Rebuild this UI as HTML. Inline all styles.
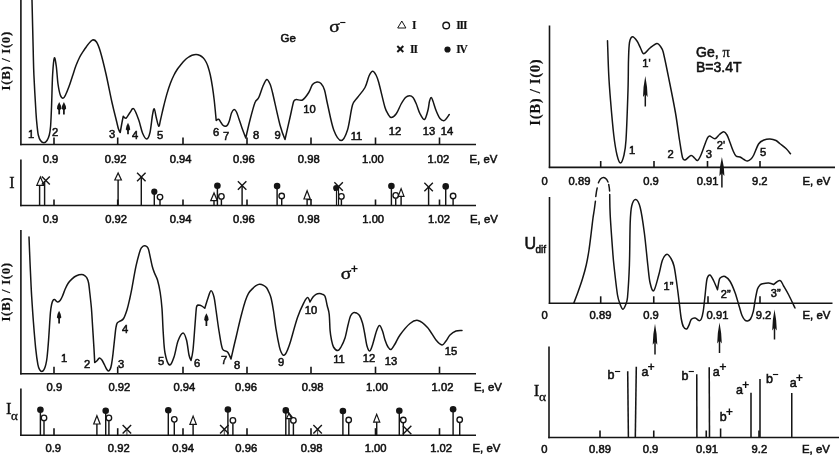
<!DOCTYPE html>
<html><head><meta charset="utf-8"><title>Ge magnetoabsorption spectra</title>
<style>
html,body{margin:0;padding:0;background:#fff;}
svg{display:block;}
.s{font-family:"Liberation Sans",Arial,sans-serif;fill:#111;stroke:#111;stroke-width:0.55px;}
.t{font-family:"Liberation Serif","Times New Roman",serif;fill:#111;stroke:#111;stroke-width:0.35px;}
.tb{font-family:"Liberation Serif","Times New Roman",serif;font-weight:bold;fill:#111;stroke:#111;stroke-width:0.15px;}
.sg{font-family:"Liberation Sans",Arial,sans-serif;font-weight:bold;fill:#111;}
</style></head><body>
<svg width="840" height="455" viewBox="0 0 840 455">
<rect width="840" height="455" fill="#fff"/>
<!-- panel 1 -->
<line x1="20.9" y1="0" x2="20.9" y2="145.2" stroke="#151515" stroke-width="1.6"/>
<line x1="20.2" y1="144.5" x2="476" y2="144.5" stroke="#151515" stroke-width="1.6"/>
<line x1="54" y1="137.5" x2="54" y2="144.5" stroke="#151515" stroke-width="1.6"/>
<line x1="117.7" y1="137.5" x2="117.7" y2="144.5" stroke="#151515" stroke-width="1.6"/>
<line x1="183" y1="137.5" x2="183" y2="144.5" stroke="#151515" stroke-width="1.6"/>
<line x1="247" y1="137.5" x2="247" y2="144.5" stroke="#151515" stroke-width="1.6"/>
<line x1="311" y1="137.5" x2="311" y2="144.5" stroke="#151515" stroke-width="1.6"/>
<line x1="375.5" y1="137.5" x2="375.5" y2="144.5" stroke="#151515" stroke-width="1.6"/>
<line x1="439.5" y1="137.5" x2="439.5" y2="144.5" stroke="#151515" stroke-width="1.6"/>
<text x="50.5" y="163" font-size="11.2" text-anchor="middle" class="s" >0.9</text>
<text x="115.6" y="163" font-size="11.2" text-anchor="middle" class="s" >0.92</text>
<text x="180.6" y="163" font-size="11.2" text-anchor="middle" class="s" >0.94</text>
<text x="243.8" y="163" font-size="11.2" text-anchor="middle" class="s" >0.96</text>
<text x="308.75" y="163" font-size="11.2" text-anchor="middle" class="s" >0.98</text>
<text x="372.8" y="163" font-size="11.2" text-anchor="middle" class="s" >1.00</text>
<text x="438.4" y="163" font-size="11.2" text-anchor="middle" class="s" >1.02</text>
<text x="469.5" y="162.5" font-size="11.4" text-anchor="start" class="s" >E, eV</text>
<text x="0" y="0" font-size="13" text-anchor="middle" class="tb" letter-spacing="0.6" transform="translate(10.2 60.8) rotate(-90)">I(B) / I(0)</text>
<path d="M32.00 0.00C32.20 8.33 32.88 37.50 33.20 50.00C33.52 62.50 33.43 64.50 33.90 75.00C34.37 85.50 35.48 104.67 36.00 113.00C36.37 119.01 36.62 121.33 37.00 125.00C37.38 128.67 37.72 132.42 38.30 135.00C38.88 137.58 39.57 139.22 40.50 140.50C41.43 141.78 42.82 142.70 43.90 142.70C44.98 142.70 46.10 141.78 47.00 140.50C47.90 139.22 48.70 137.42 49.30 135.00C49.90 132.58 50.25 130.53 50.60 126.00C50.98 121.00 51.27 113.50 51.60 105.00C51.93 96.50 52.15 82.83 52.60 75.00C53.05 67.17 53.69 59.50 54.30 58.00C54.91 56.50 55.67 61.92 56.25 66.00C56.87 70.33 57.33 79.17 58.00 84.00C58.67 88.83 59.47 92.62 60.30 95.00C61.00 97.01 62.13 98.30 63.00 98.30C63.87 98.30 64.56 96.84 65.50 95.00C66.50 93.05 67.83 89.77 69.00 86.60C70.17 83.43 71.33 79.50 72.50 76.00C73.67 72.50 74.83 68.68 76.00 65.60C77.17 62.52 78.33 59.82 79.50 57.50C80.67 55.18 81.58 53.87 83.00 51.70C84.42 49.53 86.42 46.45 88.00 44.50C89.58 42.55 91.08 40.42 92.50 40.00C93.92 39.58 95.25 40.15 96.50 42.00C97.82 43.95 98.91 46.69 100.40 51.70C101.98 57.03 104.07 65.53 106.00 74.00C107.93 82.47 110.25 94.67 112.00 102.50C113.75 110.33 115.42 116.58 116.50 121.00C117.48 125.00 117.88 127.08 118.50 129.00C119.10 130.85 120.20 132.50 120.20 132.50C120.20 132.50 121.49 125.21 122.00 122.50C122.51 119.79 123.25 116.25 123.25 116.25C123.25 116.25 125.12 118.62 126.25 118.00C127.38 117.38 128.75 114.04 130.00 112.50C131.25 110.96 132.29 107.50 133.75 108.75C135.21 110.00 137.29 115.96 138.75 120.00C140.21 124.04 141.17 129.83 142.50 133.00C143.83 136.17 145.50 139.08 146.75 139.00C148.00 138.92 149.15 136.03 150.00 132.50C150.96 128.50 151.79 118.96 152.50 115.00C153.07 111.81 153.62 108.33 154.25 108.75C154.88 109.17 155.50 114.58 156.25 117.50C157.00 120.42 158.04 125.83 158.75 126.25C159.46 126.67 159.72 123.15 160.50 120.00C161.29 116.79 162.42 111.40 163.50 107.00C164.58 102.60 165.83 97.60 167.00 93.60C168.17 89.60 169.33 86.10 170.50 83.00C171.67 79.90 172.83 77.33 174.00 75.00C175.17 72.67 176.33 70.75 177.50 69.00C178.67 67.25 179.83 65.92 181.00 64.50C182.17 63.08 183.33 61.67 184.50 60.50C185.67 59.33 186.75 58.37 188.00 57.50C189.25 56.63 190.65 55.82 192.00 55.30C193.35 54.78 194.77 54.37 196.10 54.40C197.43 54.43 198.83 54.93 200.00 55.50C201.17 56.07 202.13 56.80 203.10 57.80C204.07 58.80 205.02 60.13 205.80 61.50C206.58 62.87 207.05 63.75 207.80 66.00C208.55 68.25 209.53 71.57 210.30 75.00C211.07 78.43 211.75 82.43 212.40 86.60C213.05 90.77 213.68 95.60 214.20 100.00C214.72 104.40 215.17 109.58 215.50 113.00C215.83 116.42 216.20 120.50 216.20 120.50C216.20 120.50 217.90 118.97 218.70 119.30C219.50 119.63 220.28 121.50 221.00 122.50C221.72 123.50 222.28 124.67 223.00 125.30C223.72 125.93 224.55 126.35 225.30 126.30C226.05 126.25 226.80 125.97 227.50 125.00C228.20 124.03 228.83 122.50 229.50 120.50C230.17 118.50 230.73 114.83 231.50 113.00C232.27 111.17 233.27 109.67 234.10 109.50C234.93 109.33 235.71 110.46 236.50 112.00C237.32 113.58 238.08 116.33 239.00 119.00C239.92 121.67 240.87 124.83 242.00 128.00C243.13 131.17 245.80 138.00 245.80 138.00C245.80 138.00 248.47 125.92 250.00 120.00C251.53 114.08 253.54 106.25 255.00 102.50C256.13 99.59 257.42 100.25 258.75 97.50C260.08 94.75 261.67 89.00 263.00 86.00C264.33 83.00 265.58 79.83 266.75 79.50C267.92 79.17 269.04 81.83 270.00 84.00C270.96 86.17 271.45 88.20 272.50 92.50C274.17 99.33 277.92 117.17 280.00 125.00C281.97 132.41 285.00 139.50 285.00 139.50C285.00 139.50 288.54 123.88 290.00 117.50C291.46 111.12 292.71 104.25 293.75 101.25C294.25 99.81 294.79 99.71 296.25 99.50C297.71 99.29 300.42 101.17 302.50 100.00C304.58 98.83 307.08 95.08 308.75 92.50C310.42 89.92 311.12 86.25 312.50 84.50C313.88 82.75 315.58 82.17 317.00 82.00C318.42 81.83 319.75 82.17 321.00 83.50C322.25 84.83 323.42 86.58 324.50 90.00C325.58 93.42 325.96 97.33 327.50 104.00C329.04 110.67 331.46 123.92 333.75 130.00C336.02 136.04 338.96 140.50 341.25 140.50C343.54 140.50 345.65 135.82 347.50 130.00C349.38 124.08 350.83 110.42 352.50 105.00C353.83 100.69 355.42 100.42 357.50 97.50C359.58 94.58 363.08 91.08 365.00 87.50C366.92 83.92 367.75 78.71 369.00 76.00C370.24 73.32 371.33 71.42 372.50 71.25C373.67 71.08 374.96 73.12 376.00 75.00C377.04 76.88 377.68 78.65 378.75 82.50C380.25 87.92 383.46 102.25 385.00 107.50C386.01 110.93 386.96 112.33 388.00 114.00C389.04 115.67 389.88 117.54 391.25 117.50C392.62 117.46 394.58 116.04 396.25 113.75C397.92 111.46 399.71 106.46 401.25 103.75C402.79 101.04 404.12 98.83 405.50 97.50C406.88 96.17 408.25 95.75 409.50 95.75C410.75 95.75 411.88 96.17 413.00 97.50C414.12 98.83 415.08 101.04 416.25 103.75C417.42 106.46 418.62 111.12 420.00 113.75C421.38 116.38 423.17 120.12 424.50 119.50C425.83 118.88 427.17 113.04 428.00 110.00C428.83 106.96 428.96 103.33 429.50 101.25C430.02 99.25 430.67 97.50 431.25 97.50C431.83 97.50 432.28 99.31 433.00 101.25C433.83 103.50 435.08 108.12 436.25 111.00C437.42 113.88 438.75 116.88 440.00 118.50C441.25 120.12 442.71 120.71 443.75 120.75C444.79 120.79 445.33 119.79 446.25 118.75C447.17 117.71 448.75 115.21 449.25 114.50" fill="none" stroke="#151515" stroke-width="1.5" stroke-linecap="round" stroke-linejoin="round" />
<text x="31" y="137.5" font-size="11.2" text-anchor="middle" class="s" >1</text>
<text x="55" y="136" font-size="11.2" text-anchor="middle" class="s" >2</text>
<text x="112" y="138" font-size="11.2" text-anchor="middle" class="s" >3</text>
<text x="135" y="139" font-size="11.2" text-anchor="middle" class="s" >4</text>
<text x="160" y="139" font-size="11.2" text-anchor="middle" class="s" >5</text>
<text x="216" y="136" font-size="11.2" text-anchor="middle" class="s" >6</text>
<text x="226" y="139.5" font-size="11.2" text-anchor="middle" class="s" >7</text>
<text x="256" y="139" font-size="11.2" text-anchor="middle" class="s" >8</text>
<text x="277.5" y="139" font-size="11.2" text-anchor="middle" class="s" >9</text>
<text x="309.5" y="113" font-size="11.2" text-anchor="middle" class="s" >10</text>
<text x="356.5" y="139.5" font-size="11.2" text-anchor="middle" class="s" >11</text>
<text x="395" y="134.5" font-size="11.2" text-anchor="middle" class="s" >12</text>
<text x="429" y="134.5" font-size="11.2" text-anchor="middle" class="s" >13</text>
<text x="447" y="135" font-size="11.2" text-anchor="middle" class="s" >14</text>
<path d="M59.2 102 Q56.837500000000006 106.0 56.95 108.8 L58.5 110 L59.900000000000006 110 L61.45 108.8 Q61.5625 106.0 59.2 102 Z" fill="#151515"/>
<line x1="59.2" y1="108" x2="59.2" y2="114.4" stroke="#151515" stroke-width="1.75"/>
<path d="M63.9 102 Q61.5375 106.0 61.65 108.8 L63.199999999999996 110 L64.6 110 L66.15 108.8 Q66.2625 106.0 63.9 102 Z" fill="#151515"/>
<line x1="63.9" y1="108" x2="63.9" y2="114.4" stroke="#151515" stroke-width="1.75"/>
<path d="M128 122.8 Q125.6375 126.8 125.75 129.6 L127.3 130.8 L128.7 130.8 L130.25 129.6 Q130.3625 126.8 128 122.8 Z" fill="#151515"/>
<line x1="128" y1="128.8" x2="128" y2="134.3" stroke="#151515" stroke-width="1.75"/>
<text x="280.5" y="42" font-size="11.5" text-anchor="start" class="s" >Ge</text>
<text x="329.3" y="31.5" font-size="16.5" text-anchor="start" class="t" stroke-width="0.6" textLength="10.6" lengthAdjust="spacingAndGlyphs">σ</text>
<text x="342.5" y="25.54" font-size="10.5" text-anchor="middle" class="sg">−</text>
<polygon points="401.8,21 397.7,28 405.90000000000003,28" fill="#fff" stroke="#151515" stroke-width="1.0" stroke-linejoin="miter"/>
<text x="412" y="29" font-size="11.5" text-anchor="start" class="tb" letter-spacing="-1.1">I</text>
<circle cx="446.2" cy="25.5" r="3.3" fill="#fff" stroke="#151515" stroke-width="1.4"/>
<text x="456.2" y="29" font-size="11.5" text-anchor="start" class="tb" letter-spacing="-1.1">III</text>
<line x1="397.3" y1="46.0" x2="403.3" y2="52.0" stroke="#151515" stroke-width="1.9"/>
<line x1="397.3" y1="52.0" x2="403.3" y2="46.0" stroke="#151515" stroke-width="1.9"/>
<text x="410" y="52.5" font-size="11.5" text-anchor="start" class="tb" letter-spacing="-1.1">II</text>
<circle cx="447.5" cy="49.5" r="3.1" fill="#151515"/>
<text x="456.2" y="53" font-size="11.5" text-anchor="start" class="tb" letter-spacing="-1.1">IV</text>
<!-- panel 2 -->
<line x1="20.9" y1="159.5" x2="20.9" y2="206.2" stroke="#151515" stroke-width="1.6"/>
<line x1="20.2" y1="205.5" x2="476" y2="205.5" stroke="#151515" stroke-width="1.6"/>
<line x1="54" y1="199.5" x2="54" y2="205.5" stroke="#151515" stroke-width="1.6"/>
<line x1="117.7" y1="199.5" x2="117.7" y2="205.5" stroke="#151515" stroke-width="1.6"/>
<line x1="183" y1="199.5" x2="183" y2="205.5" stroke="#151515" stroke-width="1.6"/>
<line x1="247" y1="199.5" x2="247" y2="205.5" stroke="#151515" stroke-width="1.6"/>
<line x1="311" y1="199.5" x2="311" y2="205.5" stroke="#151515" stroke-width="1.6"/>
<line x1="375.5" y1="199.5" x2="375.5" y2="205.5" stroke="#151515" stroke-width="1.6"/>
<line x1="439.5" y1="199.5" x2="439.5" y2="205.5" stroke="#151515" stroke-width="1.6"/>
<text x="50.5" y="223" font-size="11.2" text-anchor="middle" class="s" >0.9</text>
<text x="116.1" y="223" font-size="11.2" text-anchor="middle" class="s" >0.92</text>
<text x="180.6" y="223" font-size="11.2" text-anchor="middle" class="s" >0.94</text>
<text x="243.9" y="223" font-size="11.2" text-anchor="middle" class="s" >0.96</text>
<text x="308.75" y="223" font-size="11.2" text-anchor="middle" class="s" >0.98</text>
<text x="373.2" y="223" font-size="11.2" text-anchor="middle" class="s" >1.00</text>
<text x="439" y="223" font-size="11.2" text-anchor="middle" class="s" >1.02</text>
<text x="470" y="223" font-size="11.4" text-anchor="start" class="s" >E, eV</text>
<text x="12" y="187.5" font-size="16" text-anchor="middle" class="t" >I</text>
<line x1="39.6" y1="185" x2="39.6" y2="205.5" stroke="#151515" stroke-width="1.45"/>
<polygon points="40.4,177 36.8,185.3 44.0,185.3" fill="#fff" stroke="#151515" stroke-width="1.2" stroke-linejoin="miter"/>
<line x1="44.6" y1="181" x2="44.6" y2="205.5" stroke="#151515" stroke-width="1.45"/>
<line x1="41.8" y1="176.6" x2="49.8" y2="184.6" stroke="#151515" stroke-width="1.4"/>
<line x1="41.8" y1="184.6" x2="49.8" y2="176.6" stroke="#151515" stroke-width="1.4"/>
<line x1="118.1" y1="180" x2="118.1" y2="205.5" stroke="#151515" stroke-width="1.45"/>
<polygon points="118.1,172.9 114.8,180 121.39999999999999,180" fill="#fff" stroke="#151515" stroke-width="1.2" stroke-linejoin="miter"/>
<line x1="141.3" y1="176.9" x2="141.3" y2="205.5" stroke="#151515" stroke-width="1.45"/>
<line x1="137.05" y1="172.65" x2="145.55" y2="181.15" stroke="#151515" stroke-width="1.4"/>
<line x1="137.05" y1="181.15" x2="145.55" y2="172.65" stroke="#151515" stroke-width="1.4"/>
<line x1="154.3" y1="191.7" x2="154.3" y2="205.5" stroke="#151515" stroke-width="1.45"/>
<circle cx="154.3" cy="191.7" r="3.1" fill="#151515"/>
<line x1="160" y1="199.85" x2="160" y2="205.5" stroke="#151515" stroke-width="1.45"/>
<circle cx="160" cy="197.1" r="2.75" fill="#fff" stroke="#151515" stroke-width="1.35"/>
<line x1="214" y1="200.7" x2="214" y2="205.5" stroke="#151515" stroke-width="1.45"/>
<polygon points="214,192.9 210.7,200.7 217.3,200.7" fill="#fff" stroke="#151515" stroke-width="1.2" stroke-linejoin="miter"/>
<line x1="217.4" y1="185.7" x2="217.4" y2="205.5" stroke="#151515" stroke-width="1.45"/>
<circle cx="217.4" cy="185.7" r="3.3" fill="#151515"/>
<line x1="221.4" y1="199.15" x2="221.4" y2="205.5" stroke="#151515" stroke-width="1.45"/>
<circle cx="221.4" cy="196.4" r="2.75" fill="#fff" stroke="#151515" stroke-width="1.35"/>
<line x1="242.1" y1="185.4" x2="242.1" y2="205.5" stroke="#151515" stroke-width="1.45"/>
<line x1="237.85" y1="181.15" x2="246.35" y2="189.65" stroke="#151515" stroke-width="1.4"/>
<line x1="237.85" y1="189.65" x2="246.35" y2="181.15" stroke="#151515" stroke-width="1.4"/>
<line x1="277.1" y1="186.1" x2="277.1" y2="205.5" stroke="#151515" stroke-width="1.45"/>
<circle cx="277.1" cy="186.1" r="3.3" fill="#151515"/>
<line x1="281.7" y1="198.75" x2="281.7" y2="205.5" stroke="#151515" stroke-width="1.45"/>
<circle cx="281.7" cy="196" r="2.75" fill="#fff" stroke="#151515" stroke-width="1.35"/>
<line x1="307.1" y1="199" x2="307.1" y2="205.5" stroke="#151515" stroke-width="1.45"/>
<polygon points="307.1,190.7 303.95000000000005,199 310.25,199" fill="#fff" stroke="#151515" stroke-width="1.2" stroke-linejoin="miter"/>
<line x1="307.1" y1="199.6" x2="311.7" y2="199.6" stroke="#151515" stroke-width="1.2"/>
<line x1="336.5" y1="188" x2="336.5" y2="205.5" stroke="#151515" stroke-width="1.2"/>
<line x1="338.5" y1="188" x2="338.5" y2="205.5" stroke="#151515" stroke-width="1.2"/>
<circle cx="336.1" cy="187.9" r="3" fill="#151515"/>
<line x1="334.35" y1="182.15" x2="342.85" y2="190.65" stroke="#151515" stroke-width="1.4"/>
<line x1="334.35" y1="190.65" x2="342.85" y2="182.15" stroke="#151515" stroke-width="1.4"/>
<line x1="341.4" y1="199.15" x2="341.4" y2="205.5" stroke="#151515" stroke-width="1.45"/>
<circle cx="341.4" cy="196.4" r="2.75" fill="#fff" stroke="#151515" stroke-width="1.35"/>
<line x1="391.4" y1="186" x2="391.4" y2="205.5" stroke="#151515" stroke-width="1.45"/>
<circle cx="391.4" cy="186" r="3.3" fill="#151515"/>
<line x1="395.7" y1="198.15" x2="395.7" y2="205.5" stroke="#151515" stroke-width="1.45"/>
<circle cx="395.7" cy="195.4" r="2.75" fill="#fff" stroke="#151515" stroke-width="1.35"/>
<line x1="401.1" y1="196.4" x2="401.1" y2="205.5" stroke="#151515" stroke-width="1.45"/>
<polygon points="401.1,188.6 398.20000000000005,196.4 404.0,196.4" fill="#fff" stroke="#151515" stroke-width="1.2" stroke-linejoin="miter"/>
<line x1="428.6" y1="187.1" x2="428.6" y2="205.5" stroke="#151515" stroke-width="1.45"/>
<line x1="424.35" y1="182.85" x2="432.85" y2="191.35" stroke="#151515" stroke-width="1.4"/>
<line x1="424.35" y1="191.35" x2="432.85" y2="182.85" stroke="#151515" stroke-width="1.4"/>
<line x1="445.7" y1="186.4" x2="445.7" y2="205.5" stroke="#151515" stroke-width="1.45"/>
<circle cx="445.7" cy="186.4" r="3.3" fill="#151515"/>
<line x1="453.1" y1="198.75" x2="453.1" y2="205.5" stroke="#151515" stroke-width="1.45"/>
<circle cx="453.1" cy="196" r="2.75" fill="#fff" stroke="#151515" stroke-width="1.35"/>
<!-- panel 3 -->
<line x1="20.9" y1="230" x2="20.9" y2="374.4" stroke="#151515" stroke-width="1.6"/>
<line x1="20.2" y1="373.7" x2="476" y2="373.7" stroke="#151515" stroke-width="1.6"/>
<line x1="54" y1="366.7" x2="54" y2="373.7" stroke="#151515" stroke-width="1.6"/>
<line x1="117.7" y1="366.7" x2="117.7" y2="373.7" stroke="#151515" stroke-width="1.6"/>
<line x1="183" y1="366.7" x2="183" y2="373.7" stroke="#151515" stroke-width="1.6"/>
<line x1="247" y1="366.7" x2="247" y2="373.7" stroke="#151515" stroke-width="1.6"/>
<line x1="311" y1="366.7" x2="311" y2="373.7" stroke="#151515" stroke-width="1.6"/>
<line x1="375.5" y1="366.7" x2="375.5" y2="373.7" stroke="#151515" stroke-width="1.6"/>
<line x1="439.5" y1="366.7" x2="439.5" y2="373.7" stroke="#151515" stroke-width="1.6"/>
<text x="54.4" y="391" font-size="11.2" text-anchor="middle" class="s" >0.9</text>
<text x="119.4" y="391" font-size="11.2" text-anchor="middle" class="s" >0.92</text>
<text x="184.4" y="391" font-size="11.2" text-anchor="middle" class="s" >0.94</text>
<text x="246" y="391" font-size="11.2" text-anchor="middle" class="s" >0.96</text>
<text x="312.6" y="391" font-size="11.2" text-anchor="middle" class="s" >0.98</text>
<text x="377" y="391" font-size="11.2" text-anchor="middle" class="s" >1.00</text>
<text x="442.5" y="391" font-size="11.2" text-anchor="middle" class="s" >1.02</text>
<text x="474" y="391" font-size="11.4" text-anchor="start" class="s" >E, eV</text>
<text x="0" y="0" font-size="13" text-anchor="middle" class="tb" letter-spacing="0.6" transform="translate(10.2 291.9) rotate(-90)">I(B) / I(0)</text>
<path d="M29.00 237.00C29.17 241.17 29.67 254.17 30.00 262.00C30.33 269.83 30.72 278.17 31.00 284.00C31.28 289.83 31.30 290.70 31.70 297.00C32.10 303.30 32.73 313.20 33.40 321.80C34.07 330.40 34.95 341.47 35.70 348.60C36.45 355.73 37.25 361.10 37.90 364.60C38.38 367.20 38.95 368.47 39.60 369.60C40.25 370.73 41.07 371.40 41.80 371.40C42.53 371.40 43.33 370.73 44.00 369.60C44.67 368.47 45.28 366.70 45.80 364.60C46.32 362.50 46.67 360.83 47.10 357.00C47.57 352.83 48.05 346.95 48.60 339.60C49.15 332.25 49.90 318.75 50.40 312.90C50.76 308.67 51.17 306.60 51.60 304.50C52.03 302.40 52.50 301.15 53.00 300.30C53.47 299.51 54.10 299.32 54.60 299.40C55.10 299.48 55.47 300.37 56.00 300.80C56.53 301.23 57.08 302.08 57.80 302.00C58.52 301.92 59.53 301.25 60.30 300.30C61.07 299.35 61.58 298.18 62.40 296.30C63.22 294.42 64.27 291.13 65.20 289.00C66.13 286.87 66.90 285.15 68.00 283.50C69.10 281.85 70.38 280.38 71.80 279.10C73.22 277.82 74.87 276.55 76.50 275.80C78.13 275.05 80.18 274.60 81.60 274.60C83.02 274.60 84.10 275.20 85.00 275.80C85.90 276.40 86.40 277.00 87.00 278.20C87.60 279.40 88.17 280.87 88.60 283.00C89.03 285.13 89.15 286.99 89.60 291.00C90.07 295.17 90.92 302.33 91.40 308.00C91.88 313.67 92.07 318.17 92.50 325.00C92.93 331.83 93.63 342.75 94.00 349.00C94.37 355.25 94.70 362.50 94.70 362.50C94.70 362.50 96.00 361.77 96.80 361.00C97.60 360.23 98.62 358.03 99.50 357.90C100.38 357.77 101.22 358.93 102.10 360.20C102.98 361.47 104.07 364.03 104.80 365.50C105.53 366.97 105.90 368.08 106.50 369.00C107.10 369.92 107.78 370.97 108.40 371.00C109.02 371.03 109.68 370.28 110.20 369.20C110.72 368.12 111.06 366.90 111.50 364.50C111.97 361.95 112.37 359.22 113.00 353.90C113.67 348.27 114.90 335.60 115.50 330.70C115.88 327.57 116.25 325.87 116.60 324.50C116.88 323.42 117.03 323.05 117.60 322.50C118.17 321.95 119.00 321.87 120.00 321.20C121.00 320.53 122.43 320.42 123.60 318.50C124.78 316.55 126.08 312.75 127.10 309.50C128.12 306.25 128.92 302.43 129.70 299.00C130.48 295.57 130.83 293.97 131.80 288.90C132.87 283.35 134.65 272.25 136.10 265.70C137.55 259.15 139.35 252.83 140.50 249.60C141.19 247.65 142.25 246.95 143.00 246.30C143.75 245.65 144.33 245.62 145.00 245.70C145.67 245.78 146.40 246.15 147.00 246.80C147.60 247.45 148.18 248.04 148.60 249.60C149.45 252.75 151.12 261.80 152.10 265.70C153.04 269.43 153.60 270.62 154.50 273.00C155.40 275.38 156.55 276.75 157.50 280.00C158.45 283.25 159.45 287.73 160.20 292.50C160.95 297.27 161.50 302.02 162.00 308.60C162.50 315.18 162.70 324.60 163.20 332.00C163.70 339.40 163.95 347.50 165.00 353.00C166.05 358.50 168.00 364.33 169.50 365.00C171.00 365.67 172.58 361.00 174.00 357.00C175.42 353.00 176.50 345.00 178.00 341.00C179.50 337.00 181.58 333.17 183.00 333.00C184.42 332.83 185.50 336.33 186.50 340.00C187.50 343.67 188.25 351.58 189.00 355.00C189.63 357.86 191.00 360.50 191.00 360.50C191.00 360.50 192.40 355.31 193.00 350.00C193.67 344.08 194.42 332.17 195.00 325.00C195.58 317.83 196.00 310.33 196.50 307.00C196.69 305.76 198.00 305.00 198.00 305.00C198.00 305.00 200.37 305.25 201.50 305.80C202.63 306.35 204.80 308.30 204.80 308.30C204.80 308.30 206.97 300.93 208.00 298.00C209.03 295.07 210.00 290.87 211.00 290.70C212.00 290.53 213.17 293.78 214.00 297.00C214.83 300.22 215.17 304.33 216.00 310.00C216.83 315.67 217.92 324.50 219.00 331.00C220.08 337.50 221.08 345.50 222.50 349.00C223.59 351.70 226.08 350.33 227.50 352.00C228.92 353.67 231.00 359.00 231.00 359.00C231.00 359.00 232.67 351.58 233.50 348.00C234.33 344.42 235.08 341.42 236.00 337.50C236.92 333.58 238.00 328.67 239.00 324.50C240.00 320.33 240.95 316.42 242.00 312.50C243.05 308.58 244.22 304.20 245.30 301.00C246.38 297.80 247.28 295.37 248.50 293.30C249.72 291.23 251.35 289.87 252.60 288.60C253.85 287.33 254.83 286.42 256.00 285.70C257.17 284.98 258.35 284.37 259.60 284.30C260.85 284.23 262.33 284.72 263.50 285.30C264.67 285.88 265.60 286.43 266.60 287.80C267.60 289.17 268.73 291.72 269.50 293.50C270.27 295.28 270.61 295.93 271.20 298.50C271.87 301.42 272.72 306.03 273.50 311.00C274.28 315.97 274.92 322.32 275.90 328.30C276.88 334.28 278.50 342.87 279.40 346.90C280.04 349.79 280.65 351.10 281.30 352.50C281.95 353.90 282.60 355.05 283.30 355.30C284.00 355.55 284.80 354.88 285.50 354.00C286.20 353.12 286.72 351.92 287.50 350.00C288.28 348.08 289.03 346.31 290.20 342.50C291.87 337.08 295.20 324.17 297.50 317.50C299.80 310.83 302.33 305.83 304.00 302.50C305.36 299.77 306.50 297.58 307.50 297.50C308.50 297.42 310.00 302.00 310.00 302.00C310.00 302.00 312.00 298.28 313.00 297.00C314.00 295.72 314.92 294.87 316.00 294.30C317.08 293.73 318.42 293.60 319.50 293.60C320.58 293.60 321.58 293.85 322.50 294.30C323.42 294.75 324.39 294.82 325.00 296.30C325.80 298.25 326.60 303.00 327.30 306.00C328.00 309.00 328.73 310.20 329.20 314.30C329.67 318.40 329.72 326.32 330.10 330.60C330.48 334.88 330.93 337.27 331.50 340.00C332.07 342.73 332.45 345.23 333.50 347.00C334.55 348.77 336.55 350.60 337.80 350.60C339.05 350.60 339.81 349.09 341.00 347.00C342.20 344.90 343.83 341.67 345.00 338.00C346.17 334.33 347.08 328.67 348.00 325.00C348.92 321.33 349.58 318.07 350.50 316.00C351.42 313.93 352.50 313.10 353.50 312.60C354.50 312.10 355.50 312.52 356.50 313.00C357.50 313.48 358.50 313.83 359.50 315.50C360.50 317.17 361.65 320.08 362.50 323.00C363.35 325.92 363.85 329.17 364.60 333.00C365.35 336.83 366.13 343.00 367.00 346.00C367.80 348.75 368.88 351.17 369.80 351.00C370.72 350.83 371.46 348.12 372.50 345.00C373.62 341.67 375.33 334.25 376.50 331.00C377.56 328.05 378.50 325.50 379.50 325.50C380.50 325.50 381.58 328.58 382.50 331.00C383.42 333.42 384.08 337.33 385.00 340.00C385.92 342.67 387.00 345.42 388.00 347.00C389.00 348.58 389.83 350.00 391.00 349.50C392.17 349.00 393.50 346.42 395.00 344.00C396.50 341.58 397.50 338.42 400.00 335.00C402.50 331.58 407.00 325.92 410.00 323.50C413.00 321.08 415.08 319.83 418.00 320.50C420.92 321.17 424.50 324.25 427.50 327.50C430.50 330.75 433.58 337.08 436.00 340.00C438.42 342.92 440.33 344.83 442.00 345.00C443.67 345.17 444.67 342.67 446.00 341.00C447.33 339.33 448.33 336.67 450.00 335.00C451.67 333.33 454.00 331.75 456.00 331.00C458.00 330.25 461.00 330.58 462.00 330.50" fill="none" stroke="#151515" stroke-width="1.5" stroke-linecap="round" stroke-linejoin="round" />
<text x="64" y="362" font-size="11.2" text-anchor="middle" class="s" >1</text>
<text x="87" y="367.5" font-size="11.2" text-anchor="middle" class="s" >2</text>
<text x="121" y="367.5" font-size="11.2" text-anchor="middle" class="s" >3</text>
<text x="125" y="332.5" font-size="11.2" text-anchor="middle" class="s" >4</text>
<text x="161" y="364.5" font-size="11.2" text-anchor="middle" class="s" >5</text>
<text x="197" y="367" font-size="11.2" text-anchor="middle" class="s" >6</text>
<text x="224" y="364" font-size="11.2" text-anchor="middle" class="s" >7</text>
<text x="237" y="369" font-size="11.2" text-anchor="middle" class="s" >8</text>
<text x="281" y="366" font-size="11.2" text-anchor="middle" class="s" >9</text>
<text x="311" y="314" font-size="11.2" text-anchor="middle" class="s" >10</text>
<text x="339" y="362.5" font-size="11.2" text-anchor="middle" class="s" >11</text>
<text x="369" y="361.5" font-size="11.2" text-anchor="middle" class="s" >12</text>
<text x="391" y="365" font-size="11.2" text-anchor="middle" class="s" >13</text>
<text x="451" y="354.5" font-size="11.2" text-anchor="middle" class="s" >15</text>
<path d="M59.1 310.8 Q56.737500000000004 314.8 56.85 317.6 L58.4 318.8 L59.800000000000004 318.8 L61.35 317.6 Q61.4625 314.8 59.1 310.8 Z" fill="#151515"/>
<line x1="59.1" y1="316.8" x2="59.1" y2="323.6" stroke="#151515" stroke-width="1.75"/>
<path d="M206.4 313.2 Q204.0375 317.2 204.15 320.0 L205.70000000000002 321.2 L207.1 321.2 L208.65 320.0 Q208.76250000000002 317.2 206.4 313.2 Z" fill="#151515"/>
<line x1="206.4" y1="319.2" x2="206.4" y2="326" stroke="#151515" stroke-width="1.75"/>
<text x="340.8" y="279" font-size="16.5" text-anchor="start" class="t" stroke-width="0.6" textLength="10.6" lengthAdjust="spacingAndGlyphs">σ</text>
<text x="354.3" y="273.01" font-size="12.5" text-anchor="middle" class="sg">+</text>
<!-- panel 4 -->
<line x1="20.9" y1="388.5" x2="20.9" y2="435.9" stroke="#151515" stroke-width="1.6"/>
<line x1="20.2" y1="435.2" x2="476" y2="435.2" stroke="#151515" stroke-width="1.6"/>
<line x1="54" y1="428.2" x2="54" y2="435.2" stroke="#151515" stroke-width="1.6"/>
<line x1="117.7" y1="428.2" x2="117.7" y2="435.2" stroke="#151515" stroke-width="1.6"/>
<line x1="183" y1="428.2" x2="183" y2="435.2" stroke="#151515" stroke-width="1.6"/>
<line x1="247" y1="428.2" x2="247" y2="435.2" stroke="#151515" stroke-width="1.6"/>
<line x1="311" y1="428.2" x2="311" y2="435.2" stroke="#151515" stroke-width="1.6"/>
<line x1="375.5" y1="428.2" x2="375.5" y2="435.2" stroke="#151515" stroke-width="1.6"/>
<line x1="439.5" y1="428.2" x2="439.5" y2="435.2" stroke="#151515" stroke-width="1.6"/>
<text x="53.25" y="451.5" font-size="11.2" text-anchor="middle" class="s" >0.9</text>
<text x="118.75" y="451.5" font-size="11.2" text-anchor="middle" class="s" >0.92</text>
<text x="183.1" y="451.5" font-size="11.2" text-anchor="middle" class="s" >0.94</text>
<text x="246.25" y="451.5" font-size="11.2" text-anchor="middle" class="s" >0.96</text>
<text x="311.6" y="451.5" font-size="11.2" text-anchor="middle" class="s" >0.98</text>
<text x="375.6" y="451.5" font-size="11.2" text-anchor="middle" class="s" >1.00</text>
<text x="441.1" y="451.5" font-size="11.2" text-anchor="middle" class="s" >1.02</text>
<text x="472.5" y="451.5" font-size="11.4" text-anchor="start" class="s" >E, eV</text>
<text x="6" y="414.3" font-size="16.5" text-anchor="start" class="t" >I</text>
<text x="11" y="419.7" font-size="13" text-anchor="start" class="t" >α</text>
<line x1="40.4" y1="409.7" x2="40.4" y2="435.2" stroke="#151515" stroke-width="1.45"/>
<circle cx="40.4" cy="409.7" r="3.3" fill="#151515"/>
<line x1="44" y1="420.65" x2="44" y2="435.2" stroke="#151515" stroke-width="1.45"/>
<circle cx="44" cy="417.9" r="2.75" fill="#fff" stroke="#151515" stroke-width="1.35"/>
<line x1="96.9" y1="424" x2="96.9" y2="435.2" stroke="#151515" stroke-width="1.45"/>
<polygon points="96.9,415.7 93.7,424 100.10000000000001,424" fill="#fff" stroke="#151515" stroke-width="1.2" stroke-linejoin="miter"/>
<line x1="105.7" y1="410.7" x2="105.7" y2="435.2" stroke="#151515" stroke-width="1.45"/>
<circle cx="105.7" cy="410.7" r="3.3" fill="#151515"/>
<line x1="108.9" y1="420.65" x2="108.9" y2="435.2" stroke="#151515" stroke-width="1.45"/>
<circle cx="108.9" cy="417.9" r="2.75" fill="#fff" stroke="#151515" stroke-width="1.35"/>
<line x1="126.9" y1="429.3" x2="126.9" y2="435.2" stroke="#151515" stroke-width="0.8"/>
<line x1="122.65" y1="425.05" x2="131.15" y2="433.55" stroke="#151515" stroke-width="1.4"/>
<line x1="122.65" y1="433.55" x2="131.15" y2="425.05" stroke="#151515" stroke-width="1.4"/>
<line x1="168.3" y1="410.3" x2="168.3" y2="435.2" stroke="#151515" stroke-width="1.45"/>
<circle cx="168.3" cy="410.3" r="3.3" fill="#151515"/>
<line x1="174.3" y1="422.05" x2="174.3" y2="435.2" stroke="#151515" stroke-width="1.45"/>
<circle cx="174.3" cy="419.3" r="2.75" fill="#fff" stroke="#151515" stroke-width="1.35"/>
<line x1="193.1" y1="424.3" x2="193.1" y2="435.2" stroke="#151515" stroke-width="1.45"/>
<polygon points="193.1,416.1 189.9,424.3 196.29999999999998,424.3" fill="#fff" stroke="#151515" stroke-width="1.2" stroke-linejoin="miter"/>
<line x1="224.3" y1="429.3" x2="224.3" y2="435.2" stroke="#151515" stroke-width="0.8"/>
<line x1="220.05" y1="425.05" x2="228.55" y2="433.55" stroke="#151515" stroke-width="1.4"/>
<line x1="220.05" y1="433.55" x2="228.55" y2="425.05" stroke="#151515" stroke-width="1.4"/>
<line x1="227.9" y1="409.5" x2="227.9" y2="435.2" stroke="#151515" stroke-width="1.45"/>
<circle cx="227.9" cy="409.5" r="3.3" fill="#151515"/>
<line x1="232.9" y1="423.15" x2="232.9" y2="435.2" stroke="#151515" stroke-width="1.45"/>
<circle cx="232.9" cy="420.4" r="2.75" fill="#fff" stroke="#151515" stroke-width="1.35"/>
<line x1="285.8" y1="410.4" x2="285.8" y2="435.2" stroke="#151515" stroke-width="1.45"/>
<circle cx="285.8" cy="410.4" r="3.3" fill="#151515"/>
<line x1="287.5" y1="411.5" x2="292.5" y2="418" stroke="#151515" stroke-width="1.8"/>
<line x1="289" y1="418.6" x2="289" y2="435.2" stroke="#151515" stroke-width="1.45"/>
<polygon points="289,413.6 286.5,418.6 291.5,418.6" fill="#fff" stroke="#151515" stroke-width="1.2" stroke-linejoin="miter"/>
<line x1="293.4" y1="423.15" x2="293.4" y2="435.2" stroke="#151515" stroke-width="1.45"/>
<circle cx="293.4" cy="420.4" r="2.75" fill="#fff" stroke="#151515" stroke-width="1.35"/>
<line x1="317.6" y1="429.3" x2="317.6" y2="435.2" stroke="#151515" stroke-width="0.8"/>
<line x1="313.35" y1="425.05" x2="321.85" y2="433.55" stroke="#151515" stroke-width="1.4"/>
<line x1="313.35" y1="433.55" x2="321.85" y2="425.05" stroke="#151515" stroke-width="1.4"/>
<line x1="342.9" y1="411" x2="342.9" y2="435.2" stroke="#151515" stroke-width="1.45"/>
<circle cx="342.9" cy="411" r="3.3" fill="#151515"/>
<line x1="348.7" y1="422.75" x2="348.7" y2="435.2" stroke="#151515" stroke-width="1.45"/>
<circle cx="348.7" cy="420" r="2.75" fill="#fff" stroke="#151515" stroke-width="1.35"/>
<line x1="376.7" y1="422.1" x2="376.7" y2="435.2" stroke="#151515" stroke-width="1.45"/>
<polygon points="376.7,414.3 373.65,422.1 379.75,422.1" fill="#fff" stroke="#151515" stroke-width="1.2" stroke-linejoin="miter"/>
<line x1="399.3" y1="410.7" x2="399.3" y2="435.2" stroke="#151515" stroke-width="1.45"/>
<circle cx="399.3" cy="410.7" r="3.3" fill="#151515"/>
<line x1="403.3" y1="422.75" x2="403.3" y2="435.2" stroke="#151515" stroke-width="1.45"/>
<circle cx="403.3" cy="420" r="2.75" fill="#fff" stroke="#151515" stroke-width="1.35"/>
<line x1="402.85" y1="425.75" x2="411.35" y2="434.25" stroke="#151515" stroke-width="1.4"/>
<line x1="402.85" y1="434.25" x2="411.35" y2="425.75" stroke="#151515" stroke-width="1.4"/>
<line x1="453.1" y1="409.3" x2="453.1" y2="435.2" stroke="#151515" stroke-width="1.45"/>
<circle cx="453.1" cy="409.3" r="3.3" fill="#151515"/>
<line x1="459.7" y1="422.45" x2="459.7" y2="435.2" stroke="#151515" stroke-width="1.45"/>
<circle cx="459.7" cy="419.7" r="2.75" fill="#fff" stroke="#151515" stroke-width="1.35"/>
<!-- right 1 -->
<line x1="549.5" y1="25.5" x2="549.5" y2="168.1" stroke="#151515" stroke-width="1.6"/>
<line x1="548.8" y1="167.4" x2="835" y2="167.4" stroke="#151515" stroke-width="1.6"/>
<line x1="600.7" y1="161" x2="600.7" y2="167.4" stroke="#151515" stroke-width="1.6"/>
<line x1="654" y1="161" x2="654" y2="167.4" stroke="#151515" stroke-width="1.6"/>
<line x1="707.5" y1="161" x2="707.5" y2="167.4" stroke="#151515" stroke-width="1.6"/>
<line x1="760" y1="161" x2="760" y2="167.4" stroke="#151515" stroke-width="1.6"/>
<text x="544.5" y="184.5" font-size="11.2" text-anchor="middle" class="s" >0</text>
<text x="579.5" y="184.5" font-size="11.2" text-anchor="middle" class="s" >0.89</text>
<text x="651" y="184.5" font-size="11.2" text-anchor="middle" class="s" >0.9</text>
<text x="707.6" y="184.5" font-size="11.2" text-anchor="middle" class="s" >0.91</text>
<text x="759.8" y="184.5" font-size="11.2" text-anchor="middle" class="s" >9.2</text>
<text x="802.5" y="184.5" font-size="11.4" text-anchor="start" class="s" >E, eV</text>
<text x="0" y="0" font-size="14.8" text-anchor="middle" class="tb" letter-spacing="0.65" transform="translate(539.6 92.2) rotate(-90)">I(B) / I(0)</text>
<path d="M607.50 40.70C607.71 46.42 608.25 65.12 608.75 75.00C609.25 84.88 609.67 90.00 610.50 100.00C611.33 110.00 612.67 125.83 613.75 135.00C614.83 144.17 615.88 150.33 617.00 155.00C618.02 159.24 619.33 163.00 620.50 163.00C621.67 163.00 623.08 158.83 624.00 155.00C624.92 151.17 625.54 147.55 626.00 140.00C626.67 129.17 627.58 103.33 628.00 90.00C628.42 76.67 628.25 67.92 628.50 60.00C628.75 52.08 628.83 46.38 629.50 42.50C630.05 39.30 631.25 37.00 632.50 36.75C633.75 36.50 635.67 39.12 637.00 41.00C638.33 42.88 639.38 45.88 640.50 48.00C641.62 50.12 642.17 53.75 643.75 53.75C645.33 53.75 647.79 49.73 650.00 48.00C652.21 46.27 655.25 43.65 657.00 43.40C658.75 43.15 659.47 45.07 660.50 46.50C661.53 47.93 662.44 49.03 663.20 52.00C664.67 57.75 667.25 70.83 669.30 81.00C671.35 91.17 673.80 103.17 675.50 113.00C677.20 122.83 678.33 132.58 679.50 140.00C680.67 147.42 681.58 154.17 682.50 157.50C682.97 159.20 683.58 160.33 685.00 160.00C686.42 159.67 689.42 155.83 691.00 155.50C692.58 155.17 693.42 157.17 694.50 158.00C695.58 158.83 696.50 160.83 697.50 160.50C698.50 160.17 699.46 158.17 700.50 156.00C701.54 153.83 702.67 150.33 703.75 147.50C704.83 144.67 706.04 140.92 707.00 139.00C707.87 137.25 708.17 136.04 709.50 136.00C710.83 135.96 713.33 139.00 715.00 138.75C716.67 138.50 718.04 135.67 719.50 134.50C720.96 133.33 722.50 131.67 723.75 131.75C725.00 131.83 725.96 133.21 727.00 135.00C728.04 136.79 729.00 139.92 730.00 142.50C731.00 145.08 732.00 148.25 733.00 150.50C734.00 152.75 734.83 154.92 736.00 156.00C737.17 157.08 738.67 156.42 740.00 157.00C741.33 157.58 742.75 158.83 744.00 159.50C745.25 160.17 746.33 161.08 747.50 161.00C748.67 160.92 749.96 160.00 751.00 159.00C752.04 158.00 752.65 157.16 753.75 155.00C755.04 152.46 757.04 146.25 758.75 143.75C760.46 141.25 762.12 140.79 764.00 140.00C765.88 139.21 768.00 138.92 770.00 139.00C772.00 139.08 774.33 139.71 776.00 140.50C777.67 141.29 778.33 142.42 780.00 143.75C781.67 145.08 784.25 146.83 786.00 148.50C787.75 150.17 789.75 152.88 790.50 153.75" fill="none" stroke="#151515" stroke-width="1.5" stroke-linecap="round" stroke-linejoin="round" />
<text x="632" y="153.75" font-size="11.2" text-anchor="middle" class="s" >1</text>
<text x="670.5" y="158" font-size="11.2" text-anchor="middle" class="s" >2</text>
<text x="708.75" y="157.5" font-size="11.2" text-anchor="middle" class="s" >3</text>
<text x="721" y="148.75" font-size="11.2" text-anchor="middle" class="s" >2'</text>
<text x="763" y="156" font-size="11.2" text-anchor="middle" class="s" >5</text>
<text x="646.5" y="67" font-size="11.2" text-anchor="middle" class="s" >1'</text>
<path d="M645.3 76 Q643.115 86.5 643.0 97 L645.3 94 L647.5999999999999 97 Q647.4849999999999 86.5 645.3 76 Z" fill="#151515"/>
<line x1="645.3" y1="91" x2="645.3" y2="106.5" stroke="#151515" stroke-width="1.5"/>
<path d="M721.9 157 Q719.525 166.5 719.4 176 L721.9 173 L724.4 176 Q724.275 166.5 721.9 157 Z" fill="#151515"/>
<line x1="721.9" y1="170" x2="721.9" y2="187.5" stroke="#151515" stroke-width="1.5"/>
<text x="696" y="57" font-size="14" text-anchor="start" class="s" stroke-width="0.3">Ge, <tspan class="t" font-size="14.5">π</tspan></text>
<text x="696" y="72" font-size="14" text-anchor="start" class="s" stroke-width="0.3">B=3.4T</text>
<!-- right 2 -->
<line x1="549.5" y1="197" x2="549.5" y2="304" stroke="#151515" stroke-width="1.6"/>
<line x1="548.8" y1="303.3" x2="832.5" y2="303.3" stroke="#151515" stroke-width="1.6"/>
<line x1="600.7" y1="296.3" x2="600.7" y2="303.3" stroke="#151515" stroke-width="1.6"/>
<line x1="653.75" y1="296.3" x2="653.75" y2="303.3" stroke="#151515" stroke-width="1.6"/>
<line x1="708" y1="296.3" x2="708" y2="303.3" stroke="#151515" stroke-width="1.6"/>
<line x1="760" y1="296.3" x2="760" y2="303.3" stroke="#151515" stroke-width="1.6"/>
<text x="544.5" y="318.75" font-size="11.2" text-anchor="middle" class="s" >0</text>
<text x="600.5" y="318.75" font-size="11.2" text-anchor="middle" class="s" >0.89</text>
<text x="651" y="318.75" font-size="11.2" text-anchor="middle" class="s" >0.9</text>
<text x="717.5" y="318.75" font-size="11.2" text-anchor="middle" class="s" >0.91</text>
<text x="763.5" y="318.75" font-size="11.2" text-anchor="middle" class="s" >9.2</text>
<text x="802.5" y="318.75" font-size="11.4" text-anchor="start" class="s" >E, eV</text>
<text x="524.5" y="248.75" font-size="16" text-anchor="start" class="s" stroke-width="0.3">U</text>
<text x="535.5" y="253" font-size="10" text-anchor="start" class="s" >dif</text>
<path d="M573.75 303.25C574.46 301.38 576.54 296.08 578.00 292.00C579.46 287.92 581.12 283.25 582.50 278.75C583.88 274.25 585.17 269.79 586.25 265.00C587.33 260.21 588.17 255.42 589.00 250.00C589.83 244.58 590.58 237.83 591.25 232.50C591.92 227.17 592.50 221.75 593.00 218.00C593.50 214.25 593.85 212.78 594.25 210.00C594.65 207.22 595.21 202.75 595.40 201.30" fill="none" stroke="#151515" stroke-width="1.5" stroke-linecap="round" stroke-linejoin="round" />
<path d="M595.80 196.50C595.90 195.75 596.17 193.42 596.40 192.00C596.63 190.58 597.07 188.67 597.20 188.00" fill="none" stroke="#151515" stroke-width="1.5" stroke-linecap="round" stroke-linejoin="round" />
<path d="M598.40 182.80C598.75 182.17 599.61 179.88 600.50 179.00C601.39 178.12 602.75 177.45 603.75 177.50C604.75 177.55 605.79 178.55 606.50 179.30C607.21 180.05 607.75 181.55 608.00 182.00" fill="none" stroke="#151515" stroke-width="1.5" stroke-linecap="round" stroke-linejoin="round" />
<path d="M608.70 184.50C608.80 185.08 609.15 186.92 609.30 188.00C609.45 189.08 609.55 190.50 609.60 191.00" fill="none" stroke="#151515" stroke-width="1.5" stroke-linecap="round" stroke-linejoin="round" />
<path d="M609.70 194.50C609.78 197.92 609.72 205.75 610.20 215.00C610.68 224.25 611.97 241.50 612.60 250.00C613.20 258.01 613.18 258.50 614.00 266.00C614.82 273.50 616.50 288.67 617.50 295.00C618.23 299.61 619.08 301.62 620.00 304.00C620.92 306.38 622.00 309.25 623.00 309.25C624.00 309.25 625.25 305.96 626.00 304.00C626.75 302.04 627.21 300.82 627.50 297.50C628.07 291.00 628.95 277.50 629.40 265.00C629.85 252.50 629.82 232.33 630.20 222.50C630.52 214.22 630.77 209.83 631.70 206.00C632.61 202.27 634.38 199.25 635.80 199.50C637.22 199.75 639.06 203.08 640.20 207.50C641.62 213.00 643.03 222.92 644.30 232.50C645.57 242.08 646.85 256.67 647.80 265.00C648.75 273.33 649.01 278.21 650.00 282.50C650.99 286.79 652.29 292.00 653.75 290.75C655.21 289.50 657.29 280.12 658.75 275.00C660.21 269.88 661.12 263.46 662.50 260.00C663.85 256.61 665.58 254.50 667.00 254.25C668.42 254.00 669.83 256.54 671.00 258.50C672.17 260.46 673.12 262.42 674.00 266.00C674.88 269.58 675.58 275.17 676.30 280.00C677.02 284.83 677.75 290.72 678.30 295.00C678.85 299.28 679.10 301.70 679.60 305.70C680.10 309.70 680.67 315.50 681.30 319.00C681.93 322.50 682.50 325.03 683.40 326.70C684.30 328.37 685.75 329.32 686.70 329.00C687.65 328.68 688.32 326.42 689.10 324.80C689.88 323.18 690.38 320.43 691.40 319.30C692.42 318.17 693.93 317.78 695.20 318.00C696.47 318.22 697.98 320.43 699.00 320.60C700.02 320.77 700.72 320.27 701.30 319.00C702.00 317.47 702.62 314.90 703.20 311.40C703.78 307.90 704.17 303.40 704.80 298.00C705.43 292.60 706.13 282.83 707.00 279.00C707.55 276.56 708.88 274.67 710.00 275.00C711.12 275.33 712.50 278.54 713.75 281.00C715.00 283.46 717.50 289.75 717.50 289.75C717.50 289.75 718.83 281.12 719.50 279.00C719.92 277.65 720.58 277.42 721.50 277.00C722.42 276.58 723.58 275.79 725.00 276.50C726.42 277.21 728.33 278.58 730.00 281.25C731.67 283.92 733.50 288.43 735.00 292.50C736.50 296.57 737.85 301.92 739.00 305.70C740.15 309.48 740.93 312.82 741.90 315.20C742.87 317.58 743.85 319.03 744.80 320.00C745.75 320.97 746.65 321.17 747.60 321.00C748.55 320.83 749.60 320.51 750.50 319.00C751.45 317.40 752.52 314.57 753.30 311.40C754.08 308.23 754.50 303.73 755.20 300.00C755.90 296.27 756.70 291.50 757.50 289.00C758.22 286.75 759.17 285.88 760.00 285.00C760.83 284.12 761.14 284.06 762.50 283.75C763.96 283.42 766.88 282.88 768.75 283.00C770.62 283.12 773.75 284.50 773.75 284.50C773.75 284.50 778.33 280.21 780.00 280.50C781.67 280.79 782.29 283.83 783.75 286.25C785.21 288.67 786.88 291.38 788.75 295.00C790.62 298.62 793.96 305.83 795.00 308.00" fill="none" stroke="#151515" stroke-width="1.5" stroke-linecap="round" stroke-linejoin="round" />
<text x="668.5" y="290" font-size="11" text-anchor="middle" class="s" >1”</text>
<text x="725.75" y="297.5" font-size="11" text-anchor="middle" class="s" >2”</text>
<text x="775.75" y="296.75" font-size="11" text-anchor="middle" class="s" >3”</text>
<path d="M655 323.75 Q652.815 334.25 652.7 344.75 L655 341.75 L657.3 344.75 Q657.185 334.25 655 323.75 Z" fill="#151515"/>
<line x1="655" y1="338.75" x2="655" y2="354.5" stroke="#151515" stroke-width="1.5"/>
<path d="M719.5 322.5 Q717.315 333.0 717.2 343.5 L719.5 340.5 L721.8 343.5 Q721.685 333.0 719.5 322.5 Z" fill="#151515"/>
<line x1="719.5" y1="337.5" x2="719.5" y2="353" stroke="#151515" stroke-width="1.5"/>
<path d="M774.5 309.5 Q772.315 320.0 772.2 330.5 L774.5 327.5 L776.8 330.5 Q776.685 320.0 774.5 309.5 Z" fill="#151515"/>
<line x1="774.5" y1="324.5" x2="774.5" y2="339.5" stroke="#151515" stroke-width="1.5"/>
<!-- right 3 -->
<line x1="549" y1="346.5" x2="549" y2="438.2" stroke="#151515" stroke-width="1.6"/>
<line x1="548.3" y1="437.5" x2="839" y2="437.5" stroke="#151515" stroke-width="1.6"/>
<line x1="600" y1="430.5" x2="600" y2="437.5" stroke="#151515" stroke-width="1.6"/>
<line x1="653.75" y1="430.5" x2="653.75" y2="437.5" stroke="#151515" stroke-width="1.6"/>
<line x1="706.25" y1="430.5" x2="706.25" y2="437.5" stroke="#151515" stroke-width="1.6"/>
<line x1="759" y1="430.5" x2="759" y2="437.5" stroke="#151515" stroke-width="1.6"/>
<text x="544.25" y="452.75" font-size="11.2" text-anchor="middle" class="s" >0</text>
<text x="600" y="452.75" font-size="11.2" text-anchor="middle" class="s" >0.89</text>
<text x="650.5" y="452.75" font-size="11.2" text-anchor="middle" class="s" >0.9</text>
<text x="707" y="452.75" font-size="11.2" text-anchor="middle" class="s" >0.91</text>
<text x="759.4" y="452.75" font-size="11.2" text-anchor="middle" class="s" >9.2</text>
<text x="802" y="452.75" font-size="11.4" text-anchor="start" class="s" >E, eV</text>
<text x="533.8" y="395.5" font-size="17" text-anchor="start" class="t" >I</text>
<text x="539" y="400.8" font-size="13.5" text-anchor="start" class="t" >α</text>
<line x1="627.7" y1="371.2" x2="628.4" y2="437.5" stroke="#151515" stroke-width="1.55"/>
<line x1="636.3" y1="366.7" x2="635.3" y2="437.5" stroke="#151515" stroke-width="1.55"/>
<line x1="696.75" y1="374.25" x2="696.9" y2="437.5" stroke="#151515" stroke-width="1.55"/>
<line x1="709.2" y1="367.25" x2="709.5" y2="437.5" stroke="#151515" stroke-width="1.55"/>
<line x1="720.6" y1="428.5" x2="720.6" y2="437.5" stroke="#151515" stroke-width="1.55"/>
<line x1="751" y1="392.75" x2="751" y2="437.5" stroke="#151515" stroke-width="1.55"/>
<line x1="760" y1="379" x2="760" y2="437.5" stroke="#151515" stroke-width="1.55"/>
<line x1="791.75" y1="393" x2="791.75" y2="437.5" stroke="#151515" stroke-width="1.55"/>
<text x="607.5" y="379" font-size="12.5" text-anchor="start" class="s" >b</text>
<text x="617.2" y="375.04" font-size="10.5" text-anchor="middle" class="sg">−</text>
<text x="641.5" y="376" font-size="12.5" text-anchor="start" class="s" >a</text>
<text x="651.25" y="370.96" font-size="12.5" text-anchor="middle" class="sg">+</text>
<text x="681.5" y="379.75" font-size="12.5" text-anchor="start" class="s" >b</text>
<text x="691" y="375.04" font-size="10.5" text-anchor="middle" class="sg">−</text>
<text x="712.7" y="376" font-size="12.5" text-anchor="start" class="s" >a</text>
<text x="722.8" y="370.96" font-size="12.5" text-anchor="middle" class="sg">+</text>
<text x="719.7" y="421" font-size="12.5" text-anchor="start" class="s" >b</text>
<text x="729.5" y="415.71" font-size="12.5" text-anchor="middle" class="sg">+</text>
<text x="736" y="394.25" font-size="12.5" text-anchor="start" class="s" >a</text>
<text x="745.75" y="389.46" font-size="12.5" text-anchor="middle" class="sg">+</text>
<text x="766" y="383" font-size="12.5" text-anchor="start" class="s" >b</text>
<text x="775.4" y="377.79" font-size="10.5" text-anchor="middle" class="sg">−</text>
<text x="789.8" y="387.25" font-size="12.5" text-anchor="start" class="s" >a</text>
<text x="799.5" y="382.21" font-size="12.5" text-anchor="middle" class="sg">+</text>
</svg>
</body></html>
